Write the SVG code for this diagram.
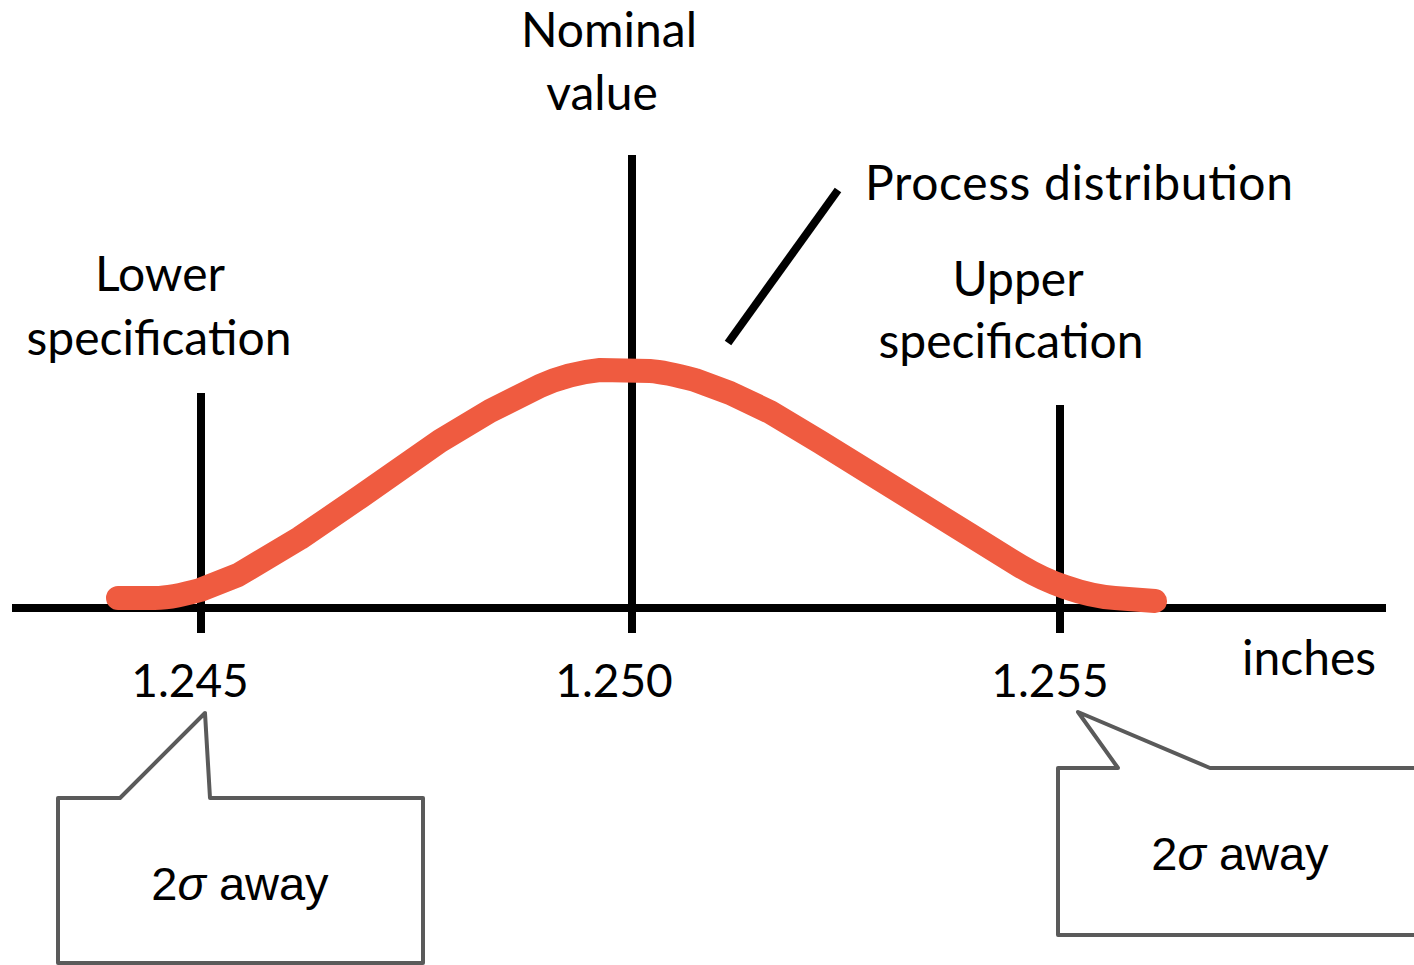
<svg xmlns="http://www.w3.org/2000/svg" width="1414" height="965" viewBox="0 0 1414 965">
<style>
.ax{stroke:#000;stroke-width:8;fill:none}
.curve{stroke:#EF5B40;stroke-width:24;fill:none;stroke-linecap:round;stroke-linejoin:round}
.lbl{font-family:Lato,"Open Sans",sans-serif;font-size:48px;fill:#000}
.num{font-size:46px}
.call{fill:#fff;stroke:#5A5A5A;stroke-width:4;stroke-linejoin:round}
.ct{font-family:"Liberation Sans",Arial,sans-serif;font-size:47px;fill:#000}
</style>
<rect width="1414" height="965" fill="#fff"/>
<g id="axes">
<line class="ax" x1="12" y1="608" x2="1386" y2="608"/>
<line class="ax" x1="201" y1="393" x2="201" y2="633"/>
<line class="ax" x1="632" y1="155" x2="632" y2="633"/>
<line class="ax" x1="1060" y1="405" x2="1060" y2="633"/>
</g>
<g id="curve">
<path class="curve" d="M118,598 L155,598 C170,598 185,594 200,590 L238,575 L300,538 L360,497 L440,441 L490,411 L540,386 C560,377 580,372 600,370 L650,371 C665,372 680,376 695,380 L730,393 L770,412 L820,442 L870,473 L920,504 L970,535 L1020,566 C1035,575 1050,582 1065,587 C1085,594 1100,597 1115,598 L1155,601"/>
</g>
<g id="connectors">
<line class="ax" x1="838" y1="190" x2="728" y2="343"/>
</g>
<g id="labels">
<text class="lbl" x="609" y="47" text-anchor="middle">Nominal</text>
<text class="lbl" x="602" y="110" text-anchor="middle">value</text>
<text class="lbl" x="865" y="200" textLength="428" lengthAdjust="spacing">Process distribution</text>
<text class="lbl" x="160" y="291" text-anchor="middle">Lower</text>
<text class="lbl" x="159" y="355" text-anchor="middle">specification</text>
<text class="lbl" x="1018" y="296" text-anchor="middle">Upper</text>
<text class="lbl" x="1011" y="358" text-anchor="middle">specification</text>
<text class="lbl num" x="190" y="697" text-anchor="middle">1.245</text>
<text class="lbl num" x="614" y="697" text-anchor="middle">1.250</text>
<text class="lbl num" x="1050" y="697" text-anchor="middle">1.255</text>
<text class="lbl" x="1242" y="675">inches</text>
</g>
<g id="callout-left">
<path class="call" d="M58,798 L120,798 L205,713 L210,798 L423,798 L423,963 L58,963 Z"/>
<text class="ct" x="240" y="900" text-anchor="middle">2<tspan font-style="italic">σ</tspan> away</text>
</g>
<g id="callout-right">
<path class="call" d="M1058,768 L1118,768 L1078,712 L1210,768 L1420,768 L1420,935 L1058,935 Z"/>
<text class="ct" x="1240" y="870" text-anchor="middle">2<tspan font-style="italic">σ</tspan> away</text>
</g>
</svg>
